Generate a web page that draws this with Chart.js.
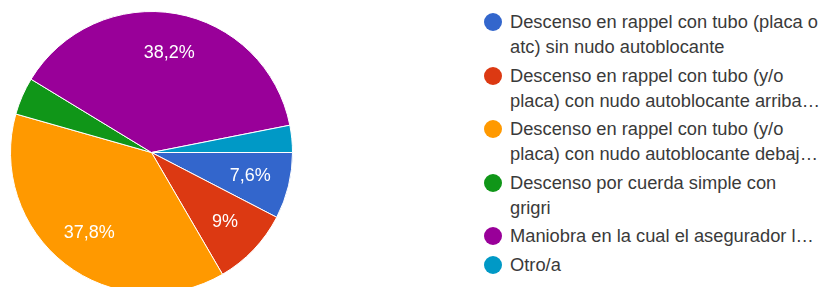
<!DOCTYPE html>
<html lang="es">
<head>
    <meta charset="UTF-8">
    <title>Descenso en rappel</title>
    <script src="https://cdn.jsdelivr.net/npm/chart.js"></script>
    <style>
        html, body {
            margin: 0;
            padding: 0;
            width: 829px;
            height: 287px;
            overflow: hidden;
            background: #ffffff;
            font-family: 'Liberation Sans', Arial, sans-serif;
        }
        #pieBox {
            position: absolute;
            left: 10px;
            top: 11px;
            width: 283px;
            height: 283px;
        }
        /* Leyenda a la derecha */
        #leyenda {
            position: absolute;
            left: 484px;
            top: 9px;
            margin: 0;
            padding: 0;
            list-style: none;
        }
        #leyenda li {
            position: relative;
            padding-left: 26px;
            margin-bottom: 3.5px;
            font-size: 18.3px;
            line-height: 25px;
            color: #3a3a3a;
            white-space: nowrap;
        }
        #leyenda li span.dot {
            position: absolute;
            left: 0;
            top: 4px;
            width: 18px;
            height: 18px;
            border-radius: 50%;
        }
    </style>
</head>
<body>
    <div id="pieBox"><canvas id="grafica"></canvas></div>
    <ul id="leyenda"></ul>
    <script>
        // Datos
        const categorias = [
            ['Descenso en rappel con tubo (placa o', 'atc) sin nudo autoblocante'],
            ['Descenso en rappel con tubo (y/o', 'placa) con nudo autoblocante arriba…'],
            ['Descenso en rappel con tubo (y/o', 'placa) con nudo autoblocante debaj…'],
            ['Descenso por cuerda simple con', 'grigri'],
            ['Maniobra en la cual el asegurador l…'],
            ['Otro/a']
        ];
        const porcentajes = [7.6, 9, 37.8, 4.3, 38.2, 3.1];
        const colores = ['#3366cc', '#dc3912', '#ff9900', '#109618', '#990099', '#0099c6'];

        // Etiquetas de porcentaje dentro de las porciones
        const etiquetasPlugin = {
            id: 'etiquetas',
            afterDatasetsDraw(chart) {
                const ctx = chart.ctx;
                const meta = chart.getDatasetMeta(0);
                ctx.save();
                ctx.fillStyle = '#ffffff';
                ctx.font = '18px "Liberation Sans", Arial, sans-serif';
                ctx.textAlign = 'center';
                ctx.textBaseline = 'middle';
                meta.data.forEach((arc, i) => {
                    const v = porcentajes[i];
                    if (v < 5) return;
                    const p = arc.getProps(['x', 'y', 'startAngle', 'endAngle', 'outerRadius'], true);
                    const mid = (p.startAngle + p.endAngle) / 2;
                    const r = p.outerRadius * 0.72;
                    const txt = String(v).replace('.', ',') + '%';
                    ctx.fillText(txt, p.x + Math.cos(mid) * r, p.y + Math.sin(mid) * r);
                });
                ctx.restore();
            }
        };

        const grafico = new Chart(document.getElementById('grafica'), {
            type: 'pie',
            data: {
                labels: categorias,
                datasets: [{
                    data: porcentajes,
                    backgroundColor: colores,
                    borderColor: '#ffffff',
                    borderWidth: 1
                }]
            },
            options: {
                responsive: true,
                maintainAspectRatio: false,
                animation: false,
                rotation: 90,
                plugins: {
                    legend: { display: false },
                    tooltip: { enabled: false }
                }
            },
            plugins: [etiquetasPlugin]
        });

        // Leyenda en HTML a partir de los datos del grafico
        const ul = document.getElementById('leyenda');
        grafico.data.labels.forEach((lineas, i) => {
            const li = document.createElement('li');
            const dot = document.createElement('span');
            dot.className = 'dot';
            dot.style.background = grafico.data.datasets[0].backgroundColor[i];
            li.appendChild(dot);
            lineas.forEach((t, j) => {
                if (j > 0) li.appendChild(document.createElement('br'));
                li.appendChild(document.createTextNode(t));
            });
            ul.appendChild(li);
        });
    </script>
</body>
</html>
